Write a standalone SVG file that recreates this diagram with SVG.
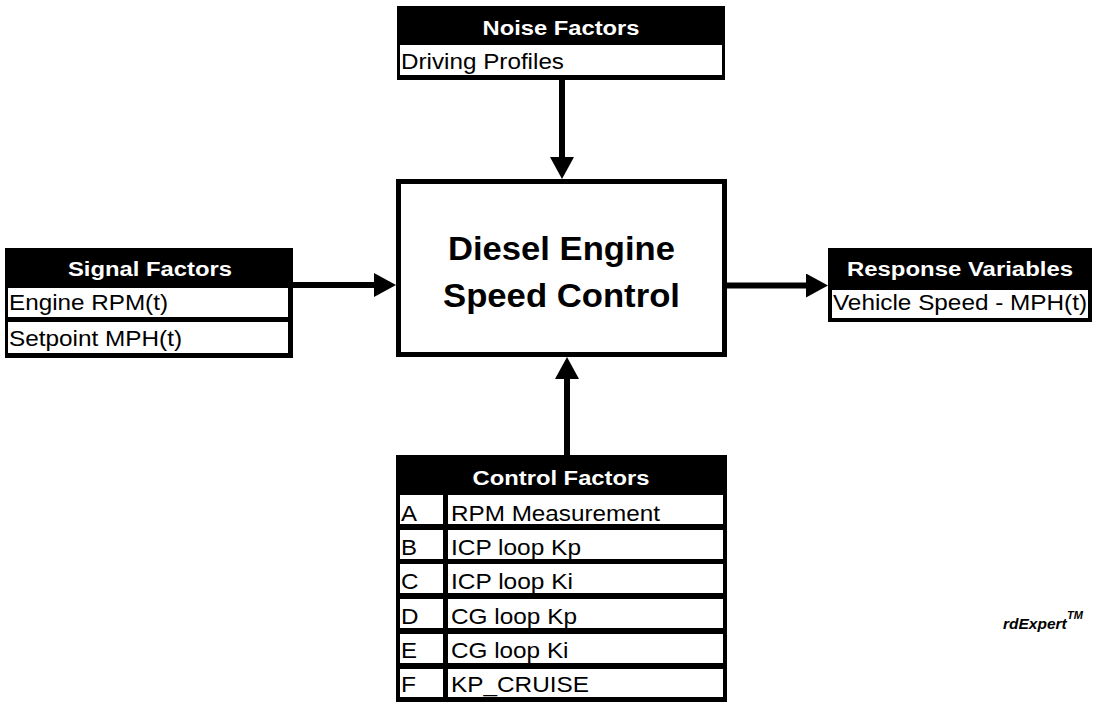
<svg xmlns="http://www.w3.org/2000/svg" width="1097" height="703" viewBox="0 0 1097 703">
  <style>
    .blk { fill: #000; }
    .cell { fill: #fff; }
    .hdr { font-family: "Liberation Sans", Arial, sans-serif; font-weight: bold; font-size: 19.5px; fill: #fff; text-anchor: middle; }
    .val { font-family: "Liberation Sans", Arial, sans-serif; font-size: 22px; fill: #000; }
    .title { font-family: "Liberation Sans", Arial, sans-serif; font-weight: bold; font-size: 33px; fill: #000; text-anchor: middle; }
    .conn { stroke: #000; stroke-width: 6; fill: none; marker-end: url(#head); }
    .brand { font-family: "Liberation Sans", Arial, sans-serif; font-weight: bold; font-style: italic; fill: #000; }
  </style>
  <defs>
    <marker id="head" markerUnits="userSpaceOnUse" markerWidth="22" markerHeight="24" refX="0" refY="12" orient="auto" viewBox="0 0 22 24">
      <path d="M0,0 L22,12 L0,24 Z" fill="#000"/>
    </marker>
  </defs>
  <rect width="1097" height="703" fill="#fff"/>

  <g id="connectors">
    <path class="conn" d="M562,80 L562,157"/>
    <path class="conn" d="M293,285 L374,285"/>
    <path class="conn" d="M727,285.5 L806,285.5"/>
    <path class="conn" d="M567,455 L567,379"/>
  </g>

  <g id="noise-factors">
    <rect class="blk" x="397" y="6" width="328" height="74"/>
    <rect class="cell" x="400" y="45" width="322" height="30"/>
    <text class="hdr" x="561" y="35" textLength="157" lengthAdjust="spacingAndGlyphs">Noise Factors</text>
    <text class="val" x="401" y="69" textLength="163" lengthAdjust="spacingAndGlyphs">Driving Profiles</text>
  </g>

  <g id="main-block">
    <rect x="398.5" y="181.5" width="326" height="173" fill="#fff" stroke="#000" stroke-width="5"/>
    <text class="title" x="561.5" y="260" textLength="227" lengthAdjust="spacingAndGlyphs">Diesel Engine</text>
    <text class="title" x="561.5" y="307" textLength="237" lengthAdjust="spacingAndGlyphs">Speed Control</text>
  </g>

  <g id="signal-factors">
    <rect class="blk" x="5" y="248" width="288" height="110"/>
    <rect class="cell" x="8" y="288" width="280" height="29"/>
    <rect class="cell" x="8" y="322" width="280" height="31"/>
    <text class="hdr" x="150" y="276" textLength="164" lengthAdjust="spacingAndGlyphs">Signal Factors</text>
    <text class="val" x="9" y="310" textLength="159" lengthAdjust="spacingAndGlyphs">Engine RPM(t)</text>
    <text class="val" x="9" y="346" textLength="173" lengthAdjust="spacingAndGlyphs">Setpoint MPH(t)</text>
  </g>

  <g id="response-variables">
    <rect class="blk" x="828" y="248" width="264" height="74"/>
    <rect class="cell" x="832" y="290" width="256" height="28"/>
    <text class="hdr" x="960" y="276" textLength="226" lengthAdjust="spacingAndGlyphs">Response Variables</text>
    <text class="val" x="833" y="310" textLength="254" lengthAdjust="spacingAndGlyphs">Vehicle Speed - MPH(t)</text>
  </g>

  <g id="control-factors">
    <rect class="blk" x="396" y="455" width="331" height="247"/>
    <text class="hdr" x="561" y="485" textLength="177" lengthAdjust="spacingAndGlyphs">Control Factors</text>
    <rect class="cell" x="400" y="495" width="43" height="29"/>
    <rect class="cell" x="448" y="495" width="275" height="29"/>
    <rect class="cell" x="400" y="530" width="43" height="29"/>
    <rect class="cell" x="448" y="530" width="275" height="29"/>
    <rect class="cell" x="400" y="564" width="43" height="29"/>
    <rect class="cell" x="448" y="564" width="275" height="29"/>
    <rect class="cell" x="400" y="599" width="43" height="29"/>
    <rect class="cell" x="448" y="599" width="275" height="29"/>
    <rect class="cell" x="400" y="634" width="43" height="29"/>
    <rect class="cell" x="448" y="634" width="275" height="29"/>
    <rect class="cell" x="400" y="669" width="43" height="28"/>
    <rect class="cell" x="448" y="669" width="275" height="28"/>
    <text class="val" x="401" y="521" textLength="16" lengthAdjust="spacingAndGlyphs">A</text>
    <text class="val" x="451" y="521" textLength="209" lengthAdjust="spacingAndGlyphs">RPM Measurement</text>
    <text class="val" x="401" y="555" textLength="16" lengthAdjust="spacingAndGlyphs">B</text>
    <text class="val" x="451" y="555" textLength="130" lengthAdjust="spacingAndGlyphs">ICP loop Kp</text>
    <text class="val" x="401" y="589" textLength="17.5" lengthAdjust="spacingAndGlyphs">C</text>
    <text class="val" x="451" y="589" textLength="122" lengthAdjust="spacingAndGlyphs">ICP loop Ki</text>
    <text class="val" x="401" y="624" textLength="17.5" lengthAdjust="spacingAndGlyphs">D</text>
    <text class="val" x="451" y="624" textLength="126" lengthAdjust="spacingAndGlyphs">CG loop Kp</text>
    <text class="val" x="401" y="658" textLength="16" lengthAdjust="spacingAndGlyphs">E</text>
    <text class="val" x="451" y="658" textLength="117.5" lengthAdjust="spacingAndGlyphs">CG loop Ki</text>
    <text class="val" x="401" y="692" textLength="15" lengthAdjust="spacingAndGlyphs">F</text>
    <text class="val" x="451" y="692" textLength="138" lengthAdjust="spacingAndGlyphs">KP_CRUISE</text>
  </g>

  <g id="brand">
    <text class="brand" x="1003" y="629" font-size="15.5">rdExpert</text>
    <text class="brand" x="1067" y="619" font-size="11">TM</text>
  </g>
</svg>
